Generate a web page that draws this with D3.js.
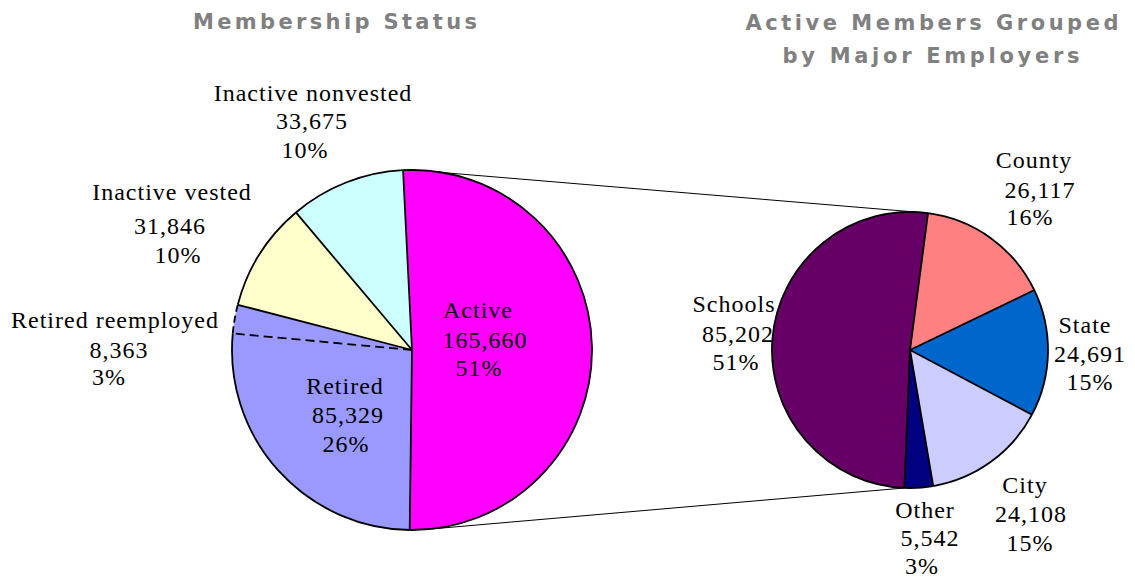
<!DOCTYPE html>
<html>
<head>
<meta charset="utf-8">
<script src="https://cdn.jsdelivr.net/npm/d3@7"></script>
<style>
  body { margin: 0; background: #fff; }
  .lbl { font-family: "Liberation Serif", serif; font-size: 24px; letter-spacing: 1px; fill: #000; }
  .ttl { font-family: "DejaVu Sans", sans-serif; font-weight: bold; font-size: 21px; fill: #808080; }
</style>
</head>
<body>
<svg id="chart" width="1135" height="578"></svg>
<script>
// membership status (left pie)
const statusNames = ["Active", "Retired", "Retired reemployed", "Inactive vested", "Inactive nonvested"];
const statusValues = [165660, 85329, 8363, 31846, 33675];
const statusColors = ["#ff00ff", "#9999ff", "#9999ff", "#ffffcc", "#ccffff"];

// active members by employer (right pie)
const employerNames = ["County", "State", "City", "Other", "Schools"];
const employerValues = [26117, 24691, 24108, 5542, 85202];
const employerColors = ["#ff8080", "#0066cc", "#ccccff", "#000080", "#660066"];

const svg = d3.select("#chart");
const deg = Math.PI / 180;
const fmt = d3.format(",");

// label spots: [x, baseline] for name / value / percent lines
const statusLabelPos = {
  "Active": [[478, 318], [485, 348], [479, 376]],
  "Retired": [[345, 394], [348, 423], [346, 452]],
  "Retired reemployed": [[115, 328], [119, 358], [109, 385]],
  "Inactive vested": [[172, 200], [170, 234], [178, 263]],
  "Inactive nonvested": [[313, 101], [312, 129], [305, 158]]
};
const employerLabelPos = {
  "Schools": [[734, 312], [738, 342], [736, 370]],
  "County": [[1034, 168], [1040, 198], [1030, 225]],
  "State": [[1085, 333], [1090, 362], [1090, 390]],
  "City": [[1025, 493], [1031, 522], [1030, 551]],
  "Other": [[925, 518], [930, 546], [922, 574]]
};

function drawPie(opts) {
  const total = d3.sum(opts.values);
  const pie = d3.pie().sort(null).startAngle(opts.start).endAngle(opts.start + 2 * Math.PI);
  const arcs = pie(opts.values);
  const arc = d3.arc().innerRadius(0).outerRadius(opts.r);
  const g = svg.append("g").attr("transform", `translate(${opts.cx},${opts.cy})`);

  g.selectAll("path.slice")
    .data(arcs)
    .join("path")
    .attr("class", "slice")
    .attr("d", arc)
    .attr("fill", (d, i) => opts.colors[i])
    .attr("stroke", (d, i) => opts.colors[i])
    .attr("stroke-width", 0.5);

  // outer rim, one piece per slice
  g.selectAll("path.rim")
    .data(arcs)
    .join("path")
    .attr("class", "rim")
    .attr("d", d => {
      const p = d3.path();
      const s = d3.pointRadial(d.startAngle, opts.r);
      p.moveTo(s[0], s[1]);
      p.arc(0, 0, opts.r, d.startAngle - Math.PI / 2, d.endAngle - Math.PI / 2);
      return p.toString();
    })
    .attr("fill", "none")
    .attr("stroke", "#000")
    .attr("stroke-width", 1.8)
    .attr("stroke-dasharray", (d, i) => opts.dashed === i ? "7,4" : null);

  // radial edges at each slice start
  g.selectAll("line.edge")
    .data(arcs)
    .join("line")
    .attr("class", "edge")
    .attr("x1", 0).attr("y1", 0)
    .attr("x2", d => d3.pointRadial(d.startAngle, opts.r)[0])
    .attr("y2", d => d3.pointRadial(d.startAngle, opts.r)[1])
    .attr("stroke", "#000")
    .attr("stroke-width", 1.8)
    .attr("stroke-dasharray", (d, i) => opts.dashed === i ? "9,5" : null);

  arcs.forEach((d, i) => {
    const name = opts.names[i];
    const lines = [name, fmt(opts.values[i]), Math.round(opts.values[i] / total * 100) + "%"];
    const pos = opts.labelPos[name];
    svg.selectAll(null)
      .data(lines)
      .join("text")
      .attr("class", "lbl")
      .attr("text-anchor", "middle")
      .attr("x", (t, j) => pos[j][0])
      .attr("y", (t, j) => pos[j][1])
      .text(t => t);
  });
  return arcs;
}

const left = { cx: 412, cy: 350, r: 180 };
const right = { cx: 910, cy: 350, r: 138 };

// connector lines from the Active slice to the employer pie
const connectors = [
  [d3.pointRadial(0 * deg, left.r), d3.pointRadial(3 * deg, right.r)],
  [d3.pointRadial(173.7 * deg, left.r), d3.pointRadial(182 * deg, right.r)]
];
svg.selectAll("line.conn")
  .data(connectors)
  .join("line")
  .attr("class", "conn")
  .attr("x1", d => left.cx + d[0][0])
  .attr("y1", d => left.cy + d[0][1])
  .attr("x2", d => right.cx + d[1][0])
  .attr("y2", d => right.cy + d[1][1])
  .attr("stroke", "#000")
  .attr("stroke-width", 1);

drawPie({
  ...left, start: -2.85 * deg,
  names: statusNames, values: statusValues, colors: statusColors,
  labelPos: statusLabelPos, dashed: 2
});
drawPie({
  ...right, start: 7.5 * deg,
  names: employerNames, values: employerValues, colors: employerColors,
  labelPos: employerLabelPos, dashed: -1
});

// titles
const titles = [
  { text: "Membership Status", x: 335, y: 29, w: 284 },
  { text: "Active Members Grouped", x: 932, y: 30, w: 373 },
  { text: "by Major Employers", x: 931, y: 63, w: 297 }
];
svg.selectAll("text.ttl")
  .data(titles)
  .join("text")
  .attr("class", "ttl")
  .attr("text-anchor", "middle")
  .attr("x", d => d.x)
  .attr("y", d => d.y)
  .attr("textLength", d => d.w)
  .attr("lengthAdjust", "spacing")
  .text(d => d.text);
</script>
</body>
</html>
